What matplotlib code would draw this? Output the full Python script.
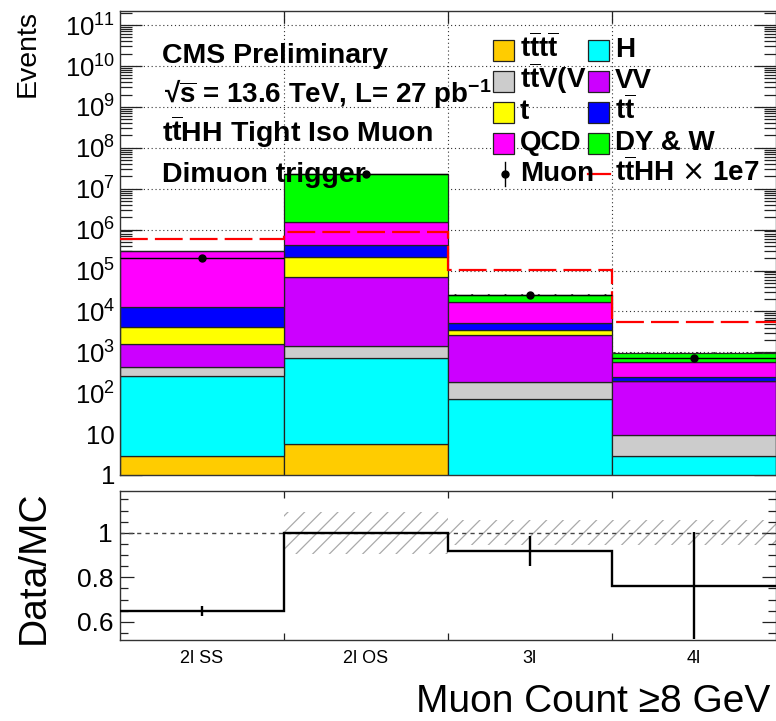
import numpy as np
import matplotlib
matplotlib.use('Agg')
import matplotlib.pyplot as plt
from matplotlib.patches import Rectangle

plt.rcParams['font.family'] = ['Liberation Sans', 'DejaVu Sans']
plt.rcParams['hatch.linewidth'] = 0.9

# ---------------- data ----------------
categories = ['2l SS', '2l OS', '3l', '4l']
tttt = [2.9, 5.8, 0.3, 0.1]
higgs = [260, 707, 70.7, 2.8]
ttV = [182, 712, 120, 6.4]
VV = [1122, 67600, 2459, 193]
single_t = [2663, 144500, 860, 0]
ttbar = [8370, 199000, 1790, 43]
QCD = [292000, 1094000, 11970, 344]
DYW = [0, 21390000, 7910, 357]
data = [2.06e5, 2.29e7, 2.52e4, 726]
signal_x1e7 = [5.8e5, 8.6e5, 1.01e5, 5600]
stack_unc = [0.0, 0.0, 0.05, 0.05]
ratio = [0.649, 0.998, 0.918, 0.762]
ratio_err = [0.024, 0.003, 0.067, 0.24]
mc_unc = [0.0, 0.095, 0.057, 0.057]

legend_labels = [r't$\overline{\mathregular{t}}$t$\overline{\mathregular{t}}$',
                 r't$\overline{\mathregular{t}}$V(V', 't', 'QCD',
                 'H', 'VV', r't$\overline{\mathregular{t}}$', 'DY & W']
colors = ['#FFCC00', '#CCCCCC', '#FFFF00', '#FF00FF',
          '#00FFFF', '#CC00FF', '#0000FF', '#00FF00']

edges = np.arange(5)
centers = edges[:-1] + 0.5

W, HT = 776, 721
fig = plt.figure(figsize=(W / 100, HT / 100), dpi=100)


def box(l, t, r, b):
    return [l / W, 1 - b / HT, (r - l) / W, (b - t) / HT]


ax = fig.add_axes(box(120, 11, 775.5, 475))
rax = fig.add_axes(box(120, 490.5, 775.5, 640))

# ---------------- main panel ----------------
ax.set_yscale('log')
ax.set_xlim(0, 4)
ax.set_ylim(1, 10 ** 11.345)

stack = [(tttt, '#FFCC00'), (higgs, '#00FFFF'), (ttV, '#CCCCCC'), (VV, '#CC00FF'),
         (single_t, '#FFFF00'), (ttbar, '#0000FF'), (QCD, '#FF00FF'), (DYW, '#00FF00')]
bottom = np.full(4, 1e-3)
for vals, col in stack:
    vals = np.asarray(vals, dtype=float)
    ax.bar(centers, vals, width=1.0, bottom=bottom, color=col,
           edgecolor='#222222', linewidth=0.9, zorder=2)
    bottom = bottom + vals
total = bottom
sunc = np.asarray(stack_unc)
ax.bar(centers, 2 * sunc * total, bottom=total * (1 - sunc), width=1.0, fill=False,
       hatch='//', edgecolor='#333333', linewidth=0, zorder=3)

ax.stairs(signal_x1e7, edges, baseline=None, color='red', lw=1.6,
          linestyle=(0, (12.5, 3.2)), zorder=4)
ax.errorbar(centers, data, xerr=0.5, yerr=np.sqrt(data), fmt='o', color='black',
            ms=5, elinewidth=1.0, capsize=0, zorder=5)

ylocs = [10.0 ** i for i in range(12)]
ylabs = ['1', '10'] + [r'$\mathregular{10^{%d}}$' % i for i in range(2, 12)]
ax.set_yticks(ylocs, labels=ylabs)
ax.set_yticks([k * 10.0 ** i for i in range(12) for k in range(2, 10)
               if k * 10.0 ** i < 10 ** 11.345], minor=True)
ax.set_xticks([1, 2, 3], labels=['', '', ''])
ax.set_xticks([], minor=True)
ax.tick_params(axis='both', which='both', direction='in', top=True, right=True,
               labelbottom=False, color='#222222')
ax.tick_params(axis='y', which='major', length=15.8, width=0.9, labelsize=18.5, pad=3.6)
ax.tick_params(axis='y', which='minor', length=8.5, width=0.9, labelleft=False)
ax.tick_params(axis='x', which='major', length=8.5, width=0.9)
ax.grid(True, which='major', ls=(0, (1, 2.5)), color='#333333', lw=0.8)
ax.set_axisbelow(True)
for s in ax.spines.values():
    s.set_linewidth(1.0)
    s.set_color('#333333')

# ---------------- ratio panel ----------------
unc = np.asarray(mc_unc)
rax.set_xlim(0, 4)
rax.set_ylim(0.518, 1.19)
rax.bar(centers, 2 * unc, bottom=1 - unc, width=1.0, fill=False, hatch='//',
        edgecolor='#AAAAAA', linewidth=0, zorder=1)
rax.axhline(1, color='#444444', lw=1.0, ls=(0, (3, 3)), zorder=2)
rax.stairs(ratio, edges, baseline=None, color='black', lw=1.7, zorder=3)
rax.errorbar(centers, ratio, yerr=ratio_err, fmt='none', ecolor='black',
             elinewidth=1.7, capsize=0, zorder=3)
rax.set_xticks([1, 2, 3], labels=['', '', ''])
rax.set_xticks(centers, labels=categories, minor=True)
rax.tick_params(axis='x', which='major', direction='in', top=True, bottom=True,
                length=5, width=0.9, color='#222222')
rax.tick_params(axis='x', which='minor', length=0, labelsize=13, pad=7)
rax.set_yticks([0.6, 0.8, 1.0], labels=['0.6', '0.8', '1'])
rax.set_yticks([v for v in np.round(np.arange(0.55, 1.19, 0.05), 2)
                if v not in (0.6, 0.8, 1.0)], minor=True)
rax.tick_params(axis='y', which='both', direction='in', left=True, right=True,
                color='#222222')
rax.tick_params(axis='y', which='major', length=10, width=0.9, labelsize=19, pad=5)
rax.tick_params(axis='y', which='minor', length=5.8, width=0.9, labelleft=False)
for s in rax.spines.values():
    s.set_linewidth(1.0)
    s.set_color('#333333')

# ---------------- overlay for texts / legend (pixel coordinates) ----------------
ov = fig.add_axes([0, 0, 1, 1])
ov.set_xlim(0, W)
ov.set_ylim(HT, 0)
ov.axis('off')
ov.patch.set_visible(False)

tk = dict(fontsize=20.5, fontweight='bold', va='baseline', ha='left', color='black')
ov.text(161.7, 63.3, 'CMS Preliminary', **tk)
ov.text(164, 103.3,
        '\u221a' + r'$\overline{\mathregular{s}}$ = 13.6 TeV, L= 27 $\mathregular{pb^{-1}}$',
        fontsize=20, fontweight='bold', va='baseline', ha='left')
ov.text(161.7, 141.7, r't$\overline{\mathregular{t}}$HH Tight Iso Muon', **tk)
ov.text(161.7, 181.7, 'Dimuon trigger', **tk)

# legend
col_x = [493.3, 588.3]
row_y = [50, 81.3, 112.3, 143.5]
for i, (lab, col) in enumerate(zip(legend_labels, colors)):
    c, r = divmod(i, 4)
    x0 = col_x[c]
    yc = row_y[r]
    ov.add_patch(Rectangle((x0, yc - 10.5), 20.7, 21, facecolor=col,
                           edgecolor='#222222', lw=0.9, zorder=3))
    ov.text(x0 + 26.5, yc + 7, lab, fontsize=20, fontweight='bold',
            va='baseline', ha='left', zorder=2)
ym = 174
ov.plot([505, 505], [162, 185.5], color='black', lw=1.0)
ov.plot([505], [ym], 'o', color='black', ms=5)
ov.text(519.8, ym + 7, 'Muon', fontsize=20, fontweight='bold', va='baseline', ha='left')
ov.plot([588.3, 610], [ym, ym], color='red', lw=1.6)
ov.text(614.8, ym + 7, r't$\overline{\mathregular{t}}$HH $\times$ 1e7', fontsize=20,
        fontweight='bold', va='baseline', ha='left')

# axis titles
ov.text(35, 10, 'Events', fontsize=20.5, rotation=90, rotation_mode='anchor',
        ha='right', va='baseline')
ov.text(43.3, 490.5, 'Data/MC', fontsize=28, rotation=90, rotation_mode='anchor',
        ha='right', va='baseline')
ov.text(770, 712, 'Muon Count \u22658 GeV', fontsize=28, ha='right', va='baseline')

fig.savefig('out.png', dpi=100)
